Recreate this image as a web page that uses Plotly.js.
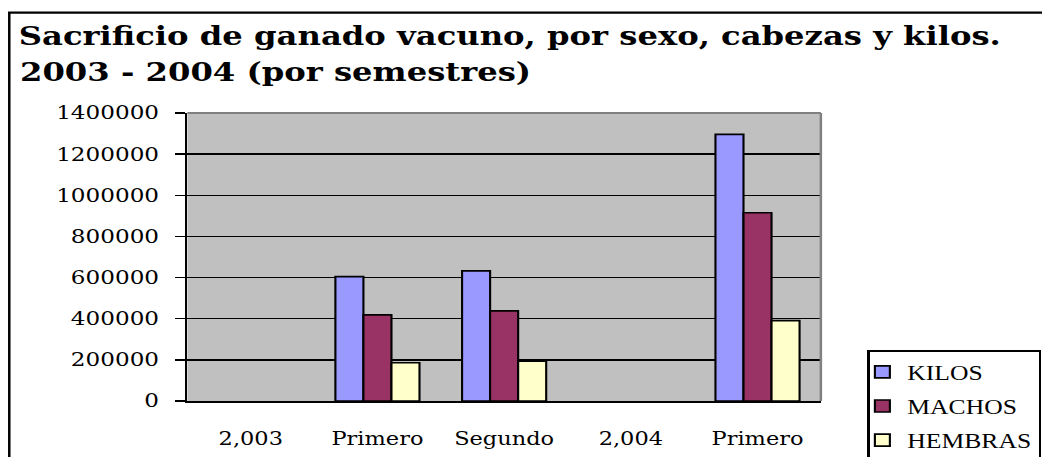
<!DOCTYPE html>
<html>
<head>
<meta charset="utf-8">
<script src="https://cdn.plot.ly/plotly-3.0.1.min.js"></script>
<style>
  html, body { margin: 0; padding: 0; background: #ffffff; overflow: hidden; }
  #chart { width: 834px; height: 457px; transform: scaleX(1.2494); transform-origin: 0 0; }
</style>
</head>
<body>
<div id="chart"></div>
<script>
// ---- data ----
const categories = ["2,003", "Primero", "Segundo", "2,004", "Primero"];
const kilos   = [null, 605000, 633000, null, 1296000];
const machos  = [null, 419000, 438000, null, 915000];
const hembras = [null, 186000, 194000, null, 391000];
const seriesNames = ["KILOS", "MACHOS", "HEMBRAS"];
const yTicks = [0, 200000, 400000, 600000, 800000, 1000000, 1200000, 1400000];
const titleLine1 = "Sacrificio de ganado vacuno, por sexo, cabezas y kilos.";
const titleLine2 = "2003 - 2004 (por semestres)";

// ---- geometry (unscaled pixels; page is stretched horizontally) ----
const W = 834, H = 457;
const L = 150.4, R = W - 656.8, T = 113, B = 56;
const PW = W - L - R, PH = H - T - B;
const px = v => (v - L) / PW;           // pixel x -> paper x
const py = v => (H - B - v) / PH;       // pixel y -> paper y

const idx = categories.map((c, i) => i);
const boundaries = categories.map((c, i) => i - 0.5).concat([categories.length - 0.5]);

const colors = ["#9999FF", "#993366", "#FFFFCC"];
const values = [kilos, machos, hembras];

const SERIF = '"DejaVu Serif", serif';
const TIMES = '"Liberation Serif", "Times New Roman", serif';

const traces = values.map((vals, k) => ({
  type: "bar",
  name: seriesNames[k],
  x: idx,
  y: vals,
  legendgroup: "g" + k,
  marker: { color: colors[k], line: { color: "#000000", width: 1.7 } },
  hoverinfo: "none"
}));

const layout = {
  width: W,
  height: H,
  margin: { l: L, r: R, t: T, b: B, pad: 0, autoexpand: false },
  paper_bgcolor: "#ffffff",
  plot_bgcolor: "#C0C0C0",
  barmode: "group",
  bargap: 0.336,
  bargroupgap: 0,
  showlegend: true,
  legend: {
    x: px(694), y: py(350), xanchor: "left", yanchor: "top",
    xref: "paper", yref: "paper",
    bgcolor: "#ffffff", bordercolor: "#000000", borderwidth: 2,
    font: { family: TIMES, size: 20.5, color: "#000000" },
    traceorder: "grouped", tracegroupgap: 4.5,
    indentation: -10
  },
  xaxis: {
    range: [-0.5, categories.length - 0.5],
    tickmode: "array", tickvals: idx, ticktext: categories,
    ticks: "", showgrid: false, zeroline: false,
    showline: true, linecolor: "#000000", linewidth: 2,
    ticklabelstandoff: 20,
    tickfont: { family: SERIF, size: 18, color: "#000000" },
    fixedrange: true
  },
  xaxis2: {
    overlaying: "x", anchor: "y", side: "bottom",
    range: [-0.5, categories.length - 0.5],
    tickmode: "array", tickvals: boundaries,
    ticks: "outside", ticklen: 8, tickwidth: 2, tickcolor: "#000000",
    showticklabels: false, showgrid: false, zeroline: false, showline: false,
    fixedrange: true
  },
  yaxis: {
    range: [0, 1400000],
    tickmode: "array", tickvals: yTicks, ticktext: yTicks.map(String),
    ticks: "outside", ticklen: 8, tickwidth: 1.5, tickcolor: "#000000",
    showgrid: true, gridcolor: "#000000", gridwidth: 1.5,
    zeroline: false,
    showline: true, linecolor: "#000000", linewidth: 2,
    ticklabelstandoff: 9,
    tickfont: { family: SERIF, size: 18.5, color: "#000000" },
    fixedrange: true
  },
  shapes: [
    // outer chart frame: left and top edges (right and bottom run off the picture)
    { type: "line", xref: "paper", yref: "paper",
      x0: px(7), x1: px(W + 10), y0: py(12.7), y1: py(12.7),
      line: { color: "#000000", width: 2.2 }, layer: "above" },
    { type: "line", xref: "paper", yref: "paper",
      x0: px(8), x1: px(8), y0: py(12.7), y1: py(H + 10),
      line: { color: "#000000", width: 2 }, layer: "above" },
    // plot-area border top and right in grey
    { type: "line", xref: "paper", yref: "paper", x0: 0, x1: 1, y0: 1, y1: 1,
      line: { color: "#808080", width: 2 }, layer: "above" },
    { type: "line", xref: "paper", yref: "paper", x0: 1, x1: 1, y0: 0, y1: 1,
      line: { color: "#808080", width: 2 }, layer: "above" }
  ],
  annotations: [
    { text: "<b>" + titleLine1 + "</b>", xref: "paper", yref: "paper",
      x: px(14), y: py(36), xanchor: "left", yanchor: "middle", showarrow: false,
      font: { family: SERIF, size: 25.8, color: "#000000" } },
    { text: "<b>" + titleLine2 + "</b>", xref: "paper", yref: "paper",
      x: px(14.5), y: py(72), xanchor: "left", yanchor: "middle", showarrow: false,
      font: { family: SERIF, size: 25.8, color: "#000000" } }
  ]
};

Plotly.newPlot("chart", traces, layout, { staticPlot: true, displayModeBar: false, responsive: false });
</script>
</body>
</html>
